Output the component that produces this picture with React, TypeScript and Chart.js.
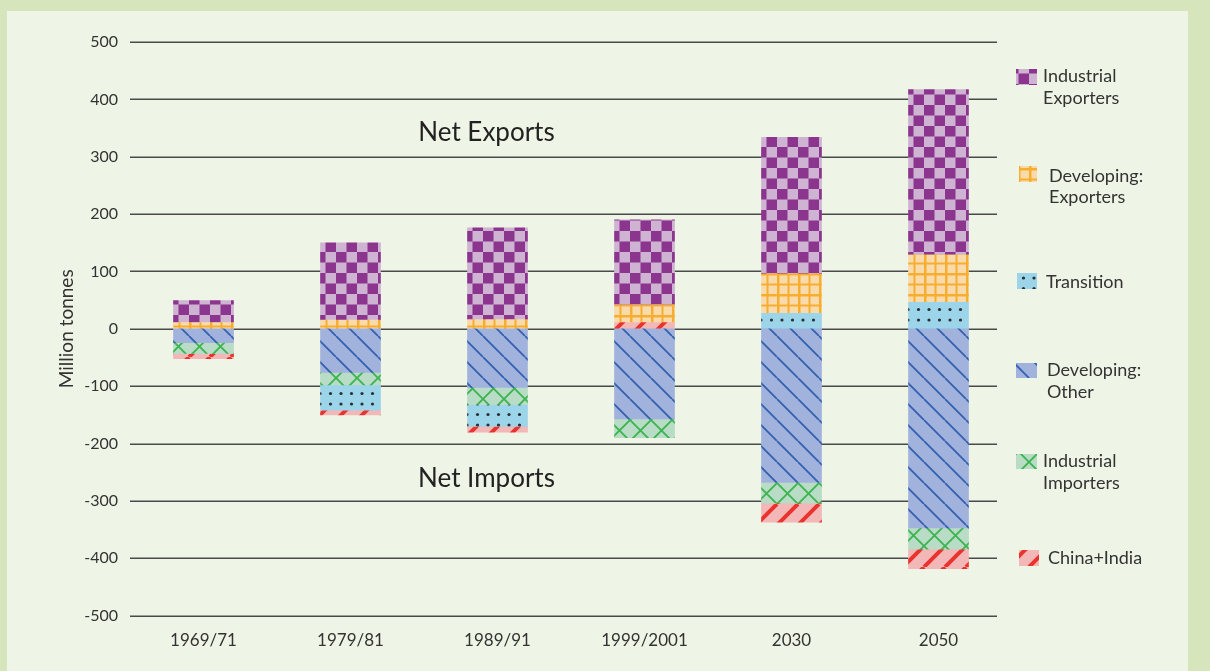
import React, { useEffect, useRef } from 'react';
import { Chart, registerables } from 'chart.js';
Chart.register(...registerables);

const categories = ['1969/71', '1979/81', '1989/91', '1999/2001', '2030', '2050'];
const developingOther = [-24, -76, -102, -157, -268, -347];
const industrialImporters = [-19, -22, -30, -33, -36, -37];
const transition = [0, -44, -38, 0, 27, 46];
const chinaIndia = [-9, -8, -10, 11, -33, -34];
const developingExporters = [11, 15, 16, 31, 69, 83];
const industrialExporters = [38, 135, 160, 148, 238, 288];
const yMin = -500;
const yMax = 500;
const yStep = 100;
const legendLabels = [
  ['Industrial', 'Exporters'],
  ['Developing:', 'Exporters'],
  ['Transition'],
  ['Developing:', 'Other'],
  ['Industrial', 'Importers'],
  ['China+India'],
];
const annotations = [
  { text: 'Net Exports', category: 2, value: 342 },
  { text: 'Net Imports', category: 2, value: -262 },
];

const FONT = 'Lato, "Open Sans", sans-serif';

function tile(size: number, draw: (c: CanvasRenderingContext2D) => void) {
  const cv = document.createElement('canvas');
  cv.width = size;
  cv.height = size;
  const c = cv.getContext('2d')!;
  draw(c);
  return document.createElement('canvas').getContext('2d')!.createPattern(cv, 'repeat')!;
}

function makePatterns() {
  const S = 21;
  const checker = tile(S, (c) => {
    c.fillStyle = '#cfb3d2';
    c.fillRect(0, 0, S, S);
    c.fillStyle = '#8b358f';
    c.fillRect(0, 0, S / 2, S / 2);
    c.fillRect(S / 2, S / 2, S / 2, S / 2);
  });
  const grid = tile(S, (c) => {
    c.fillStyle = '#f9dbab';
    c.fillRect(0, 0, S, S);
    c.fillStyle = '#f7ae30';
    c.fillRect(0, 0, 2.5, S);
    c.fillRect(10.5, 0, 2, S);
    c.fillRect(0, 0, S, 2.5);
    c.fillRect(0, 10.5, S, 2);
  });
  const dots = tile(S, (c) => {
    c.fillStyle = '#9cd5ea';
    c.fillRect(0, 0, S, S);
    c.fillStyle = '#2b2f33';
    const pts = [[5, 5], [15.5, 5], [5, 15.5], [15.5, 15.5]];
    for (const [x, y] of pts) {
      c.beginPath();
      c.arc(x, y, 1.6, 0, Math.PI * 2);
      c.fill();
    }
  });
  const back = tile(S, (c) => {
    c.fillStyle = '#a1b3dc';
    c.fillRect(0, 0, S, S);
    c.strokeStyle = '#3460b0';
    c.lineWidth = 1.8;
    c.beginPath();
    for (const o of [-S, 0, S]) {
      c.moveTo(o, 0);
      c.lineTo(o + S, S);
    }
    c.stroke();
  });
  const cross = tile(S, (c) => {
    c.fillStyle = '#b8dcc5';
    c.fillRect(0, 0, S, S);
    c.strokeStyle = '#3cb44f';
    c.lineWidth = 1.8;
    c.beginPath();
    for (const o of [-S, 0, S]) {
      c.moveTo(o, 0);
      c.lineTo(o + S, S);
      c.moveTo(o, S);
      c.lineTo(o + S, 0);
    }
    c.stroke();
  });
  const fwd = tile(S, (c) => {
    c.fillStyle = '#f2b7b6';
    c.fillRect(0, 0, S, S);
    c.strokeStyle = '#e8332e';
    c.lineWidth = 4;
    c.beginPath();
    for (const o of [-S, 0, S]) {
      c.moveTo(o, S);
      c.lineTo(o + S, 0);
    }
    c.stroke();
  });
  return { checker, grid, dots, back, cross, fwd };
}

export default function App() {
  const ref = useRef<HTMLCanvasElement | null>(null);

  useEffect(() => {
    document.body.style.margin = '0';
    document.body.style.overflow = 'hidden';
    const canvas = ref.current!;
    const p = makePatterns();

    const legendFills = [p.checker, p.grid, p.dots, p.back, p.cross, p.fwd];
    const legendLayout = [
      { sx: 1016, sy: 69, sw: 21, sh: 16, tx: 1043, ty: [76, 98] },
      { sx: 1019, sy: 166, sw: 18, sh: 16, tx: 1049, ty: [176, 197] },
      { sx: 1017, sy: 273, sw: 20, sh: 16, tx: 1046, ty: [282] },
      { sx: 1016, sy: 363, sw: 21, sh: 15, tx: 1047, ty: [370, 392] },
      { sx: 1016, sy: 454, sw: 21, sh: 15, tx: 1043, ty: [461, 483] },
      { sx: 1019, sy: 550, sw: 20, sh: 16, tx: 1048, ty: [558] },
    ];

    const decor = {
      id: 'decor',
      beforeDraw(chart: any) {
        const c = chart.ctx;
        c.save();
        c.fillStyle = '#d6e5bc';
        c.fillRect(0, 0, chart.width, chart.height);
        c.fillStyle = '#eff5e6';
        c.fillRect(7, 11, 1181, chart.height - 11);
        c.restore();
      },
      beforeDatasetsDraw(chart: any) {
        const c = chart.ctx;
        const y = chart.scales.y;
        c.save();
        c.strokeStyle = '#4a4a4a';
        c.lineWidth = 1.5;
        for (let v = yMin; v <= yMax; v += yStep) {
          const py = Math.round(y.getPixelForValue(v)) + 0.25;
          c.beginPath();
          c.moveTo(130, py);
          c.lineTo(997, py);
          c.stroke();
        }
        c.restore();
      },
      afterDraw(chart: any) {
        const c = chart.ctx;
        const x = chart.scales.x;
        const y = chart.scales.y;
        c.save();
        c.fillStyle = '#222';
        c.font = '26px ' + FONT;
        c.textAlign = 'center';
        c.textBaseline = 'middle';
        for (const a of annotations) {
          c.fillText(a.text, x.getPixelForValue(a.category) - 11, y.getPixelForValue(a.value));
        }
        c.font = '18px ' + FONT;
        c.textAlign = 'left';
        legendLabels.forEach((lines, i) => {
          const L = legendLayout[i];
          c.fillStyle = legendFills[i];
          c.fillRect(L.sx, L.sy, L.sw, L.sh);
          c.fillStyle = '#333';
          lines.forEach((t, j) => c.fillText(t, L.tx, L.ty[j]));
        });
        c.restore();
      },
    };

    const chart = new Chart(canvas, {
      type: 'bar',
      data: {
        labels: categories,
        datasets: [
          { label: 'Developing: Other', data: developingOther, backgroundColor: p.back },
          { label: 'Industrial Importers', data: industrialImporters, backgroundColor: p.cross },
          { label: 'Transition', data: transition, backgroundColor: p.dots },
          { label: 'China+India', data: chinaIndia, backgroundColor: p.fwd },
          { label: 'Developing: Exporters', data: developingExporters, backgroundColor: p.grid },
          { label: 'Industrial Exporters', data: industrialExporters, backgroundColor: p.checker },
        ],
      },
      options: {
        responsive: false,
        animation: false,
        devicePixelRatio: 1,
        layout: { padding: { left: 0, top: 42, right: 198, bottom: 5 } },
        datasets: { bar: { barThickness: 60, borderWidth: 0 } },
        plugins: { legend: { display: false }, tooltip: { enabled: false } },
        scales: {
          x: {
            stacked: true,
            grid: { display: false, drawTicks: false },
            border: { display: false },
            ticks: { color: '#333', padding: 15, font: { family: FONT, size: 17 } },
          },
          y: {
            stacked: true,
            min: yMin,
            max: yMax,
            afterFit: (s: any) => {
              s.width = 130;
            },
            grid: { display: false, drawTicks: false },
            border: { display: false },
            ticks: {
              stepSize: yStep,
              padding: 12,
              color: '#333',
              font: { family: FONT, size: 16 },
              callback: (v: any) => String(v),
            },
            title: {
              display: true,
              text: 'Million tonnes',
              color: '#333',
              font: { family: FONT, size: 19 },
              padding: { top: 55, bottom: 0 },
            },
          },
        },
      },
      plugins: [decor],
    } as any);
    return () => chart.destroy();
  }, []);

  return (
    <div style={{ width: 1210, height: 671 }}>
      <canvas ref={ref} width={1210} height={671} style={{ display: 'block' }} />
    </div>
  );
}
